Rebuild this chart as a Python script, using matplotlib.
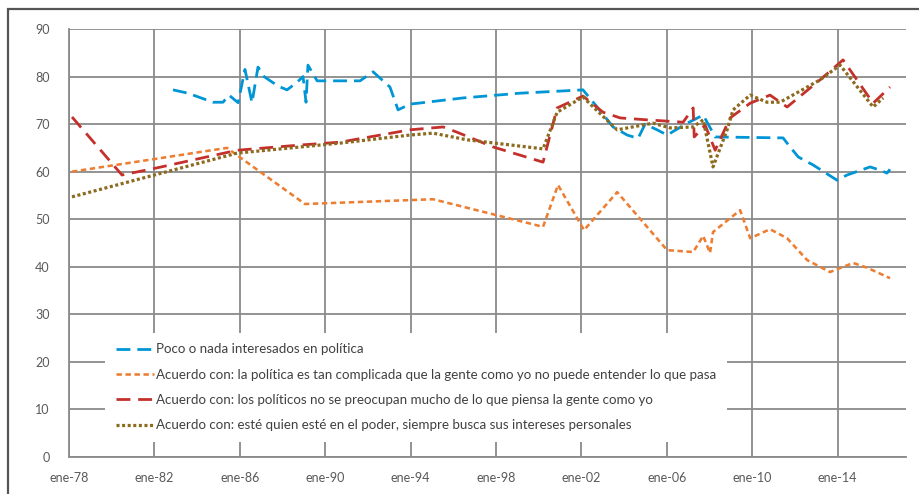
import numpy as np
import matplotlib.pyplot as plt
from matplotlib.patches import Rectangle

# series (x = fractional year)
poco_x = [1982.87, 1983.57, 1984.74, 1985.21, 1985.49, 1985.92, 1986.24, 1986.57, 1986.85, 1987.13,
          1987.79, 1988.21, 1988.68, 1988.96, 1989.10, 1989.19, 1989.62, 1991.63, 1992.24, 1993.03,
          1993.41, 1993.97, 1996.45, 1999.12, 2002.07, 2002.73, 2003.48, 2004.14, 2004.65, 2004.98,
          2005.54, 2006.01, 2006.95, 2007.70, 2008.26, 2011.44, 2011.77, 2012.15, 2012.85, 2013.97,
          2014.44, 2015.52, 2015.99, 2016.31, 2016.45]
poco_y = [77.2, 76.5, 74.6, 74.6, 76.1, 74.5, 81.5, 74.5, 82.0, 80.0,
          78.0, 77.2, 78.8, 80.0, 74.6, 82.4, 79.1, 79.1, 81.0, 77.8,
          73.0, 74.2, 75.5, 76.5, 77.2, 73.6, 69.4, 67.7, 67.0, 70.0,
          68.8, 67.7, 70.2, 71.9, 67.3, 67.1, 65.2, 63.1, 61.4, 58.2,
          59.3, 61.0, 60.3, 59.7, 60.5]

compl_x = [1978.14, 1985.40, 1986.01, 1989.05, 1995.05, 2000.20, 2000.90, 2002.12, 2003.67, 2006.01,
           2007.23, 2007.70, 2008.02, 2008.16, 2009.43, 2009.90, 2010.83, 2011.63, 2012.57, 2013.64,
           2014.72, 2015.38, 2016.45]
compl_y = [60.0, 65.0, 63.0, 53.2, 54.2, 48.4, 57.2, 47.7, 55.7, 43.5,
           43.1, 46.5, 42.9, 47.3, 51.9, 46.0, 47.9, 46.0, 41.4, 38.9,
           40.8, 39.8, 37.6]

preoc_x = [1978.14, 1980.48, 1982.12, 1985.87, 1988.82, 1990.69, 1993.97, 1995.52, 1996.17, 1997.86,
           2000.20, 2000.86, 2002.07, 2003.01, 2003.81, 2005.07, 2006.76, 2007.23, 2007.28, 2007.79,
           2008.26, 2008.96, 2009.90, 2010.83, 2011.63, 2013.17, 2014.25, 2015.66, 2016.45]
preoc_y = [71.5, 59.3, 60.8, 64.5, 65.6, 66.2, 68.8, 69.4, 68.3, 65.2,
           62.0, 73.4, 75.9, 72.5, 71.3, 70.9, 70.4, 73.4, 67.3, 69.8,
           64.5, 71.3, 74.4, 76.1, 73.6, 79.3, 83.5, 74.4, 77.8]

poder_x = [1978.14, 1985.87, 1990.69, 1993.97, 1995.05, 1996.64, 2000.20, 2000.86, 2002.07, 2003.34,
           2003.67, 2005.35, 2006.15, 2007.23, 2007.70, 2008.16, 2008.82, 2009.10, 2009.90, 2010.69,
           2011.30, 2013.17, 2014.11, 2015.66, 2016.13]
poder_y = [54.7, 63.9, 66.0, 67.7, 68.1, 66.7, 64.8, 72.5, 75.7, 70.2,
           68.8, 70.2, 69.2, 69.4, 70.9, 61.0, 68.8, 73.0, 76.1, 74.6,
           74.6, 79.3, 82.4, 73.6, 75.5]

tick_years = list(range(1978, 2015, 4))
tick_labels = ['ene-%02d' % (y % 100) for y in tick_years]

labels = ['Poco o nada interesados en política',
          'Acuerdo con: la política es tan complicada que la gente como yo no puede entender lo que pasa',
          'Acuerdo con: los políticos no se preocupan mucho de lo que piensa la gente como yo',
          'Acuerdo con: esté quien esté en el poder, siempre busca sus intereses personales']

plt.rcParams['font.family'] = ['Lato', 'DejaVu Sans']

fig = plt.figure(figsize=(9.19, 4.94), dpi=100)
ax = fig.add_axes([0.0751, 0.0749, 0.9108, 0.8664])

ax.plot(poco_x, poco_y, color='#0096D6', lw=2.0, dashes=(5, 2.5), label=labels[0])
ax.plot(compl_x, compl_y, color='#ED7D31', lw=1.85, dashes=(2.1, 1.4), label=labels[1])
ax.plot(preoc_x, preoc_y, color='#C4302B', lw=2.0, dashes=(5, 2.8), label=labels[2])
ax.plot(poder_x, poder_y, color='#8C6A1E', lw=2.3, dashes=(0.95, 0.8), label=labels[3])

ax.set_xlim(1978, 2017.2)
ax.set_ylim(0, 90)
ax.set_xticks(tick_years)
ax.set_xticklabels(tick_labels)
ax.set_yticks(np.arange(0, 91, 10))
ax.tick_params(length=0, labelsize=9, colors='#595959')
ax.tick_params(axis='x', pad=11)
ax.tick_params(axis='y', pad=14)
ax.grid(color='#8a8a8a', lw=1.3)
ax.set_axisbelow(True)
for s in ['top', 'right']:
    ax.spines[s].set_visible(False)
for s in ['left', 'bottom']:
    ax.spines[s].set_color('#8a8a8a')
    ax.spines[s].set_linewidth(1.3)

leg = ax.legend(loc='lower left', bbox_to_anchor=(0.043, 0.035), borderaxespad=0,
                fontsize=9.6, frameon=True, facecolor='white', edgecolor='none', framealpha=1,
                handlelength=2.9, handletextpad=0.1, labelspacing=1.0, borderpad=0.8)
for t in leg.get_texts():
    t.set_color('#404040')
leg.get_frame().set_boxstyle('square', pad=0)

# outer frame around the figure
fig.patches.append(Rectangle((8 / 919, -0.1), 1.2, 1 - 9 / 494 + 0.1, transform=fig.transFigure,
                             fill=False, edgecolor='#555555', lw=1.6, clip_on=False))

fig.savefig('out.png', dpi=100)
